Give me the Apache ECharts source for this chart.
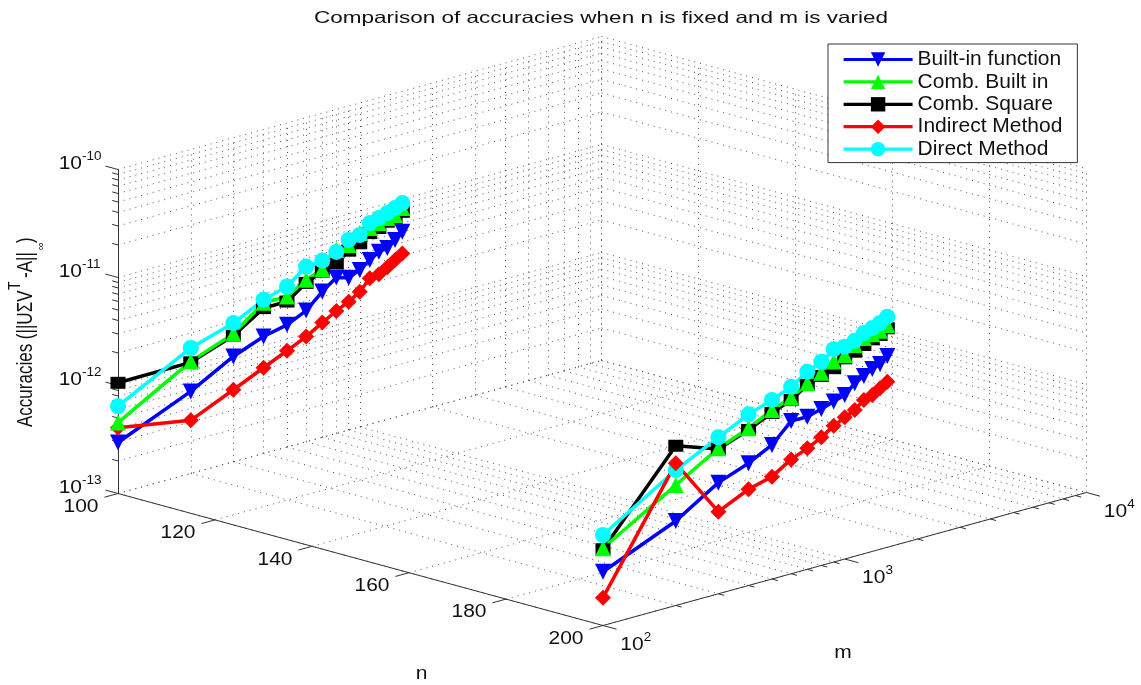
<!DOCTYPE html>
<html><head><meta charset="utf-8">
<style>html,body{margin:0;padding:0;background:#fff}#c{width:1141px;height:685px}</style>
<script src="https://cdn.jsdelivr.net/npm/echarts@6/dist/echarts.min.js"></script>
</head><body><div id="c"></div>
<script>
// ---- data: accuracy is stored as log10(accuracy) ----
const mValues = [100,200,300,400,500,600,700,800,900,1000,1100,1200,1300,1400,1500];
const nLow = 100, nHigh = 200;
const builtIn100 = [-12.528,-12.240,-12.025,-11.917,-11.869,-11.785,-11.651,-11.557,-11.589,-11.546,-11.480,-11.426,-11.413,-11.359,-11.301];
const combBuilt100 = [-12.343,-11.962,-11.815,-11.605,-11.606,-11.501,-11.444,-11.301,-11.286,-11.204,-11.183,-11.160,-11.135,-11.128,-11.081];
const combSquare100 = [-11.975,-11.971,-11.833,-11.654,-11.653,-11.529,-11.466,-11.424,-11.339,-11.299,-11.230,-11.206,-11.169,-11.156,-11.116];
const indirect100 = [-12.392,-12.508,-12.333,-12.206,-12.109,-12.026,-11.938,-11.866,-11.811,-11.747,-11.649,-11.635,-11.592,-11.544,-11.501];
const direct100 = [-12.192,-11.838,-11.716,-11.577,-11.514,-11.378,-11.364,-11.319,-11.240,-11.222,-11.137,-11.114,-11.089,-11.063,-11.035];
const builtIn200 = [-12.502,-12.218,-11.971,-11.868,-11.759,-11.586,-11.587,-11.552,-11.514,-11.482,-11.398,-11.354,-11.311,-11.284,-11.229];
const combBuilt200 = [-12.285,-11.885,-11.653,-11.544,-11.435,-11.371,-11.278,-11.216,-11.144,-11.112,-11.044,-11.002,-10.990,-10.976,-10.942];
const combSquare200 = [-12.294,-11.521,-11.659,-11.560,-11.462,-11.392,-11.293,-11.246,-11.205,-11.142,-11.106,-11.067,-11.036,-11.016,-10.972];
const indirect200 = [-12.742,-11.684,-12.240,-12.109,-12.052,-11.941,-11.880,-11.814,-11.739,-11.688,-11.646,-11.576,-11.552,-11.509,-11.467];
const direct200 = [-12.162,-11.746,-11.551,-11.415,-11.342,-11.269,-11.170,-11.114,-11.029,-11.035,-11.004,-10.956,-10.932,-10.905,-10.865];
const names = ['Built-in function','Comb. Built in','Comb. Square','Indirect Method','Direct Method'];
const nTicks = [100,120,140,160,180,200];
const mDecades = [2,3,4];
const zDecades = [-13,-12,-11,-10];
const titleText = 'Comparison of accuracies when n is fixed and m is varied';

// ---- 3D axes projected to the page plane (orthographic view) ----
const O = [118,493.5], NV = [485,132], MV = [483.5,-133], ZV = 108;
const U = n => (n-100)/100, V = m => (Math.log10(m)-2)/2;
const P = (u,v,z) => [O[0]+u*NV[0]+v*MV[0], O[1]+u*NV[1]+v*MV[1]-(z+13)*ZV];
const minors = [2,3,4,5,6,7,8,9];

const grid=[], axisLines=[];
const seg=(list,a,b)=>list.push({coords:[a,b]});
const zAll=[]; zDecades.forEach(d=>{zAll.push({z:d,major:true}); if(d<-10) minors.forEach(k=>zAll.push({z:d+Math.log10(k),major:false}));});
const mAll=[]; mDecades.forEach(d=>{mAll.push({m:Math.pow(10,d),major:true}); if(d<4) minors.forEach(k=>mAll.push({m:k*Math.pow(10,d),major:false}));});
zAll.forEach(t=>{
  seg(grid,P(0,0,t.z),P(0,1,t.z)); seg(grid,P(0,1,t.z),P(1,1,t.z));
  seg(axisLines,P(0,0,t.z),P(t.major?-0.026:-0.012,0,t.z));
});
mAll.forEach(t=>{
  const v=V(t.m);
  seg(grid,P(0,v,-13),P(1,v,-13)); seg(grid,P(0,v,-13),P(0,v,-10));
  seg(axisLines,P(1,v,-13),P(t.major?1.028:1.012,v,-13));
});
nTicks.forEach(n=>{
  const u=U(n);
  seg(grid,P(u,0,-13),P(u,1,-13)); seg(grid,P(u,1,-13),P(u,1,-10));
  seg(axisLines,P(u,0,-13),P(u,-0.028,-13));
});
seg(axisLines,P(0,0,-13),P(1,0,-13));
seg(axisLines,P(1,0,-13),P(1,1,-13));
seg(axisLines,P(0,0,-13),P(0,0,-10));

// ---- text ----
const TF='"Liberation Sans",Arial,sans-serif';
const texts=[];
const T=(p,dx,dy,s,size,align,rot,sx,sy)=>texts.push({p:p,dx:dx,dy:dy,s:s,size:size,align:align||'center',rot:rot||0,sx:sx||1,sy:sy||1});
const TICK=17.5, TICKX=1.2, EXP=12.5, EXPX=1.08;
T([601,18.5],0,0,titleText,16.5,'center',0,1.364);
nTicks.forEach(n=>T(P(U(n),0,-13),-37,13.4,String(n),TICK,'center',0,TICKX));
mDecades.forEach(d=>{
  const p=P(1,V(Math.pow(10,d)),-13);
  T(p,29,19.4,'10',TICK,'center',0,TICKX); T(p,44.5,12,String(d),EXP,'center',0,EXPX);
});
zDecades.forEach(d=>{
  const p=P(0,0,d);
  T(p,-36,-5,'10',TICK,'right',0,TICKX); T(p,-36,-13,String(d),EXP,'left',0,EXPX);
});
T([421.5,674],0,0,'n',TICK,'center',0,TICKX);
T([843,653],0,0,'m',TICK,'center',0,TICKX);
T([26,427],0,0,'Accuracies (||U\u03A3V',17,'left',Math.PI/2,1,1.25);
T([15,290],0,0,'T',14,'left',Math.PI/2,1,1.2);
T([26,278],0,0,'-A||',17,'left',Math.PI/2,1,1.25);
T([41,250],0,0,'\u221E',11,'left',Math.PI/2);
T([26,243],0,0,')',17,'left',Math.PI/2,1,1.25);

// ---- series ----
const styles=[
 {c:'#0000ff',sym:'triangle',size:16,rot:180},
 {c:'#00ff00',sym:'triangle',size:16,rot:0},
 {c:'#000000',sym:'rect',size:[15,12],rot:0},
 {c:'#ff0000',sym:'diamond',size:16,rot:0},
 {c:'#00ffff',sym:'circle',size:16,rot:0}
];
const table100=[builtIn100,combBuilt100,combSquare100,indirect100,direct100];
const table200=[builtIn200,combBuilt200,combSquare200,indirect200,direct200];
function lineSeries(i,n,vals){
  const st=styles[i];
  return {type:'line',name:names[i],silent:true,
    data:mValues.map((m,k)=>P(U(n),V(m),vals[k])),
    symbol:st.sym,symbolSize:st.size,symbolRotate:st.rot,showSymbol:true,showAllSymbol:true,
    lineStyle:{color:st.c,width:3.5},itemStyle:{color:st.c},z:5,clip:false};
}
const series=[
 {type:'lines',coordinateSystem:'cartesian2d',silent:true,z:1,data:grid,
  lineStyle:{color:'#555',width:1,type:[1,5],opacity:1}},
 {type:'lines',coordinateSystem:'cartesian2d',silent:true,z:2,data:axisLines,
  lineStyle:{color:'#333',width:1,opacity:1}}
];
// drawing order follows the overlaps seen in the picture
[0,3,2,1,4].forEach(i=>series.push(lineSeries(i,nLow,table100[i])));
[0,2,1,4,3].forEach(i=>series.push(lineSeries(i,nHigh,table200[i])));
series.push({type:'custom',silent:true,z:6,clip:false,coordinateSystem:'cartesian2d',
  data:texts.map((t,i)=>[t.p[0],t.p[1],i]),
  renderItem:(params,api)=>{
    const t=texts[params.dataIndex], c=api.coord([api.value(0),api.value(1)]);
    return {type:'text',x:c[0]+t.dx,y:c[1]+t.dy,rotation:t.rot,scaleX:t.sx,scaleY:t.sy,
      style:{text:t.s,font:t.size+'px '+TF,fill:'#111',align:t.align,verticalAlign:'middle'}};
  }});

const chart=echarts.init(document.getElementById('c'),null,{renderer:'canvas'});
chart.setOption({
  animation:false,backgroundColor:'#fff',
  grid:{left:0,right:0,top:0,bottom:0},
  xAxis:{type:'value',min:0,max:1141,show:false},
  yAxis:{type:'value',min:0,max:685,inverse:true,show:false},
  legend:{data:names,orient:'vertical',left:828,top:44,itemWidth:69,itemHeight:18,itemGap:1.4,
    padding:[5,15,3,14],backgroundColor:'#fff',borderColor:'#333',borderWidth:1,z:10,selectedMode:false,
    lineStyle:{width:3.2},
    textStyle:{fontFamily:TF,fontSize:21,color:'#111'}},
  tooltip:{show:false},
  series:series
});
</script></body></html>
